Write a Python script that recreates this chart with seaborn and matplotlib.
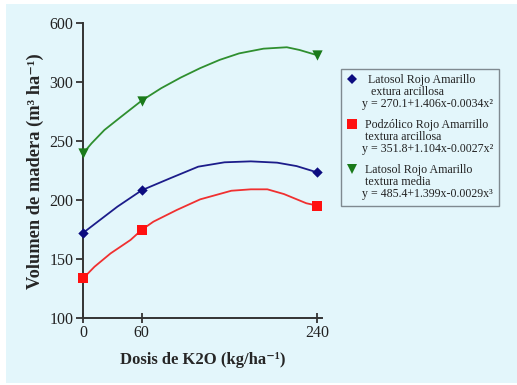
import numpy as np
import pandas as pd
import matplotlib
matplotlib.use("Agg")
import matplotlib.pyplot as plt
import seaborn as sns
from matplotlib.lines import Line2D
from matplotlib.legend_handler import HandlerLine2D
from matplotlib.patches import Rectangle

# ---- data ----
dose = [0, 60, 240]
blue_vals = [172.5, 208.5, 223.7]
red_vals = [134, 175, 195.5]
green_vals = [240, 284.5, 323]

# fitted-curve traces
blue_curve_x = [0, 15, 35, 60, 89, 118, 145, 172, 199, 219, 240]
blue_curve_y = [172.5, 182, 194.6, 208.5, 218.6, 228.5, 232.2, 233, 231.9, 229, 223.7]
red_curve_x = [0, 11.5, 28, 48.5, 60, 72, 96, 120, 152, 172, 189, 206, 229, 240]
red_curve_y = [134, 143.7, 155, 166.4, 175, 181.9, 191.8, 200.8, 208.1, 209.3, 209.3, 205.3, 197.5, 195.5]
green_curve_x = [0, 8.5, 21.7, 38.8, 60, 80, 100, 120, 140, 160, 185, 209, 222, 240]
green_curve_y = [240, 248.3, 259.6, 270.8, 284.5, 295, 304, 312, 319, 324.5, 328.5, 329.7, 327.4, 323]

series = ["  Latosol Rojo Amarillo\n   extura arcillosa\ny = 270.1+1.406x-0.0034x²",
          " Podzólico Rojo Amarrillo\n textura arcillosa\ny = 351.8+1.104x-0.0027x²",
          " Latosol Rojo Amarillo\n textura media\ny = 485.4+1.399x-0.0029x³"]

yticks = [100, 150, 200, 250, 300, 350]
ytick_labels = ["100", "150", "200", "250", "300", "600"]
xticks = [0, 60, 240]
xtick_labels = ["0", "60", "240"]

BG = "#e3f6fb"
line_colors = ["#1c1c8a", "#f03030", "#2f8f2f"]
marker_colors = ["#0c0c80", "#ff1010", "#1a7a1a"]
markers = ["D", "s", "v"]
msizes = [28, 60, 55]

sns.set_theme(style="white")
plt.rcParams["font.family"] = ["Liberation Serif", "DejaVu Serif"]

fig = plt.figure(figsize=(5.17, 3.85), dpi=100)
fig.patch.set_facecolor("white")
fig.patches.append(Rectangle((6 / 517, 2 / 385), 1 - 6 / 517, 1 - 6 / 385,
                             transform=fig.transFigure, facecolor=BG,
                             edgecolor="none", zorder=-10))

ax = fig.add_axes([83.3 / 517, 66.7 / 385, 238.6 / 517, 295 / 385])
ax.set_facecolor(BG)
ax.patch.set_alpha(0)

curves = [(blue_curve_x, blue_curve_y), (red_curve_x, red_curve_y), (green_curve_x, green_curve_y)]
pts = [blue_vals, red_vals, green_vals]
for i in range(3):
    cdf = pd.DataFrame({"x": curves[i][0], "y": curves[i][1]})
    sns.lineplot(data=cdf, x="x", y="y", ax=ax, color=line_colors[i], lw=1.3,
                 sort=False, estimator=None, zorder=2)
    pdf = pd.DataFrame({"x": dose, "y": pts[i]})
    sns.scatterplot(data=pdf, x="x", y="y", ax=ax, color=marker_colors[i],
                    marker=markers[i], s=msizes[i], linewidth=0, zorder=3)
for coll in ax.collections:
    coll.set_clip_on(False)

ax.set_xlim(0, 245)
ax.set_ylim(100, 350)
ax.set_yticks(yticks)
ax.set_yticklabels(ytick_labels)
ax.set_xticks(xticks)
ax.set_xticklabels(xtick_labels)

for s in ["top", "right"]:
    ax.spines[s].set_visible(False)
for s in ["left", "bottom"]:
    ax.spines[s].set_color("#333333")
    ax.spines[s].set_linewidth(1.4)
    ax.spines[s].set_zorder(1)
ax.tick_params(axis="y", direction="out", length=5, width=1.3, color="#333333",
               labelsize=11.5, labelcolor="#222222", pad=2, left=True)
ax.tick_params(axis="x", direction="inout", length=7, width=1.3, color="#333333",
               labelsize=11.5, labelcolor="#222222", pad=1, bottom=True)

ax.set_xlabel("Dosis de K2O (kg/ha⁻¹)", fontsize=12, fontweight="bold", labelpad=8)
ax.set_ylabel("Volumen de madera (m³ ha⁻¹)", fontsize=13.2, fontweight="bold", labelpad=4)


class TopHandler(HandlerLine2D):
    def create_artists(self, legend, orig_handle, xdescent, ydescent, width,
                       height, fontsize, trans):
        arts = super().create_artists(legend, orig_handle, xdescent, ydescent,
                                      width, height, fontsize, trans)
        for a in arts:
            yd = np.asarray(a.get_ydata(), dtype=float)
            a.set_ydata(yd + fontsize * 1.15)
        return arts


handles = [Line2D([], [], linestyle="none", marker=markers[i], color=marker_colors[i],
                  markersize=[5, 7, 7][i], markeredgewidth=0) for i in range(3)]
leg = fig.legend(handles, series, loc="upper left", bbox_to_anchor=(341 / 517, 1 - 69 / 385),
                 frameon=True, fancybox=False, edgecolor="#7f8a90", facecolor=BG,
                 framealpha=1, fontsize=8.6, labelspacing=0.75, handletextpad=0.45,
                 handlelength=0.9, borderpad=0.45, borderaxespad=0,
                 handler_map={Line2D: TopHandler()})
leg.get_frame().set_linewidth(1.0)
for t in leg.get_texts():
    t.set_color("#222222")
    t.set_linespacing(1.0)

fig.savefig("out.png", dpi=100, facecolor=fig.get_facecolor())
